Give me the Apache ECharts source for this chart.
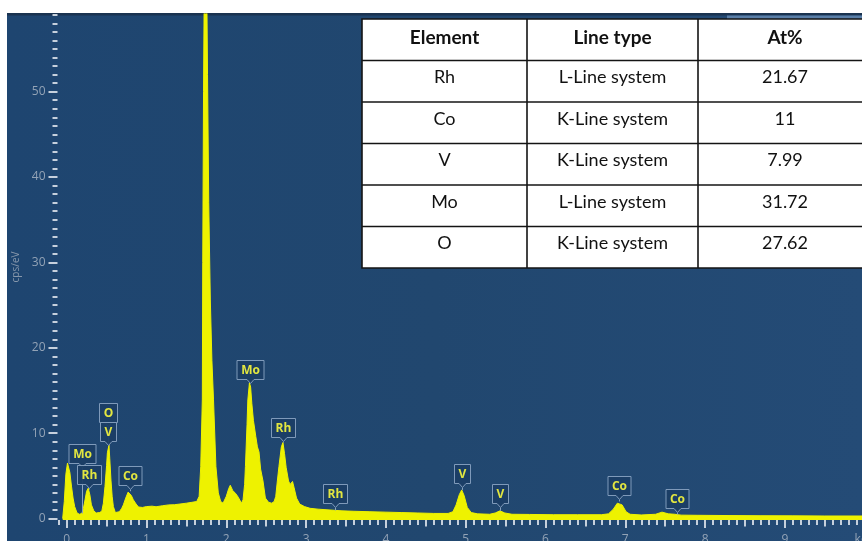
<!DOCTYPE html>
<html>
<head>
<meta charset="utf-8">
<script src="https://cdn.jsdelivr.net/npm/echarts@6/dist/echarts.min.js"></script>
<style>
  html, body { margin: 0; padding: 0; background: #ffffff; }
  #chart { width: 862px; height: 541px; }
</style>
</head>
<body>
<div id="chart"></div>
<script>
// EDS spectrum: energy (keV) and intensity (cps/eV)
const energyKeV = [
  -0.05, -0.03, -0.01, 0.01, 0.02, 0.04, 0.06, 0.08, 0.10, 0.13, 0.16, 0.19,
  0.21, 0.23, 0.25, 0.27, 0.29, 0.31, 0.34, 0.37, 0.41, 0.44, 0.46, 0.48,
  0.50, 0.51, 0.53, 0.54, 0.555, 0.57, 0.585, 0.61, 0.63, 0.66, 0.69, 0.71,
  0.74, 0.77, 0.785, 0.81, 0.835, 0.87, 0.90, 0.95, 1.00, 1.07, 1.12, 1.20,
  1.28, 1.35, 1.42, 1.50, 1.57, 1.63, 1.66, 1.68, 1.70, 1.705, 1.715, 1.725,
  1.74, 1.755, 1.765, 1.78, 1.80, 1.82, 1.84, 1.87, 1.90, 1.93, 1.96, 2.00,
  2.03, 2.05, 2.08, 2.12, 2.15, 2.19, 2.21, 2.23, 2.24, 2.26, 2.27, 2.29,
  2.305, 2.32, 2.34, 2.37, 2.39, 2.41, 2.43, 2.46, 2.49, 2.53, 2.57, 2.60,
  2.62, 2.64, 2.66, 2.69, 2.71, 2.73, 2.75, 2.78, 2.80, 2.83, 2.85, 2.88,
  2.92, 2.98, 3.05, 3.15, 3.30, 3.45, 3.60, 3.80, 4.00, 4.20, 4.40, 4.60,
  4.78, 4.84, 4.88, 4.92, 4.95, 4.98, 5.02, 5.07, 5.15, 5.30, 5.37, 5.43,
  5.49, 5.58, 5.80, 6.10, 6.40, 6.70, 6.79, 6.85, 6.90, 6.92, 6.96, 7.01,
  7.06, 7.20, 7.38, 7.46, 7.54, 7.62, 7.70, 7.90, 8.30, 8.70, 9.10, 9.50,
  10.0
];
const countsPerEV = [
  0.0, 2.0, 5.2, 6.5, 6.7, 5.4, 3.8, 2.4, 1.4, 0.65, 0.5, 0.6,
  1.2, 2.2, 3.2, 3.55, 2.8, 1.6, 0.9, 0.65, 0.7, 0.85, 1.8, 3.75,
  6.2, 7.7, 8.6, 7.0, 4.5, 2.6, 1.4, 0.7, 0.55, 0.8, 1.2, 1.6,
  2.4, 3.1, 3.2, 2.7, 2.2, 1.7, 1.35, 1.3, 1.4, 1.45, 1.38, 1.5,
  1.6, 1.62, 1.7, 1.8, 1.9, 2.0, 2.6, 6.1, 14.0, 30.0, 50.0, 64.0,
  71.0, 63.0, 52.0, 37.0, 25.6, 18.5, 13.9, 6.1, 3.0, 2.0, 1.8, 2.6,
  3.5, 3.9, 3.3, 2.9, 2.5, 1.8, 2.2, 4.0, 6.1, 11.0, 13.9, 15.9,
  15.4, 13.5, 11.5, 9.6, 8.4, 7.8, 5.8, 4.4, 2.4, 1.9, 1.8, 2.0,
  2.6, 4.4, 6.1, 8.4, 8.9, 7.6, 6.0, 4.4, 4.0, 4.35, 3.6, 2.4,
  1.7, 1.4, 1.2, 1.1, 1.0, 0.9, 0.85, 0.8, 0.75, 0.7, 0.65, 0.6,
  0.6, 0.8, 1.6, 2.8, 3.35, 2.7, 1.3, 0.7, 0.55, 0.5, 0.65, 0.9,
  0.65, 0.5, 0.48, 0.45, 0.45, 0.45, 0.55, 1.1, 1.8, 2.0, 1.6, 0.8,
  0.5, 0.42, 0.5, 0.75, 0.55, 0.5, 0.4, 0.38, 0.35, 0.33, 0.32, 0.3,
  0.3
];

// Identified peaks (element, line energy in keV, intensity at the marker)
const peakNames    = ['Mo', 'Rh', 'O', 'V', 'Co', 'Mo', 'Rh', 'Rh', 'V', 'V', 'Co', 'Co'];
const peakEnergies = [0.19, 0.28, 0.52, 0.52, 0.79, 2.30, 2.71, 3.36, 4.95, 5.43, 6.92, 7.65];
const peakCounts   = [0.6, 3.4, 8.6, 8.6, 3.2, 15.9, 8.9, 0.95, 3.35, 0.9, 2.0, 0.45];

// Axis tick values
const xTickValues = [0, 1, 2, 3, 4, 5, 6, 7, 8, 9, 10];
const xHalfTickValues = [0.5, 1.5, 2.5, 3.5, 4.5, 5.5, 6.5, 7.5, 8.5, 9.5];
const yTickValues = [0, 10, 20, 30, 40, 50];

// Quantification table
const tableHeader = ['Element', 'Line type', 'At%'];
const tableElements = ['Rh', 'Co', 'V', 'Mo', 'O'];
const tableLineTypes = ['L-Line system', 'K-Line system', 'K-Line system', 'L-Line system', 'K-Line system'];
const tableAtPercent = ['21.67', '11', '7.99', '31.72', '27.62'];

// ---- layout & styles ----
const YELLOW = '#eef200';
const TICK = '#c6d0dc';
const LABEL = '#93a3b6';
const calloutDrop = [50, 6, 23, 4, 6, 4, 6, 7, 7, 7.5, 6, 6.5]; // px gap between peak and callout box
const calloutFont = 'bold 12px "Open Sans", sans-serif';

const measureCtx = document.createElement('canvas').getContext('2d');
function textWidth(t, font) { measureCtx.font = font; return measureCtx.measureText(t).width; }

function renderCallout(params, api) {
  const i = params.dataIndex;
  const pt = api.coord([api.value(0), api.value(1)]);
  const name = peakNames[i];
  const w = Math.round(textWidth(name, calloutFont) + 8);
  const h = 19;
  const cx = Math.round(pt[0]) + 0.5;
  const bottom = Math.round(pt[1] - calloutDrop[i]) + 0.5;
  const top = bottom - h;
  const notch = 4;
  const children = [];
  if (calloutDrop[i] > notch) {
    children.push({
      type: 'line',
      shape: { x1: cx, y1: bottom + notch, x2: cx, y2: pt[1] },
      style: { stroke: '#8aa3bf', lineWidth: 1 }
    });
  }
  children.push({
    type: 'polygon',
    shape: {
      points: [
        [cx - w / 2, top], [cx + w / 2, top], [cx + w / 2, bottom],
        [cx + 3.5, bottom], [cx, bottom + notch], [cx - 3.5, bottom], [cx - w / 2, bottom]
      ]
    },
    style: { fill: 'rgba(27,62,101,0.95)', stroke: '#7f9aba', lineWidth: 1 }
  });
  children.push({
    type: 'text',
    x: cx, y: top + h / 2 + 0.5,
    style: { text: name, font: calloutFont, fill: '#e2e640', align: 'center', verticalAlign: 'middle' }
  });
  return { type: 'group', children: children };
}

// table built from the arrays above
function buildTable() {
  const cols = [362, 527, 698, 872];
  const top = 19, rowH = 41.5;
  const nRows = tableElements.length + 1;
  const bottom = top + rowH * nRows;
  const els = [];
  els.push({
    type: 'rect', z: 20,
    shape: { x: cols[0], y: top, width: cols[3] - cols[0], height: bottom - top },
    style: { fill: '#ffffff', stroke: '#141414', lineWidth: 1.6 }
  });
  for (let r = 1; r < nRows; r++) {
    const y = top + rowH * r;
    els.push({ type: 'line', z: 21, shape: { x1: cols[0], y1: y, x2: cols[3], y2: y },
      style: { stroke: '#141414', lineWidth: 1.6 } });
  }
  for (let c = 1; c < 3; c++) {
    els.push({ type: 'line', z: 21, shape: { x1: cols[c], y1: top, x2: cols[c], y2: bottom },
      style: { stroke: '#141414', lineWidth: 1.6 } });
  }
  const rows = [tableHeader].concat(tableElements.map((e, i) => [e, tableLineTypes[i], tableAtPercent[i]]));
  rows.forEach((row, r) => {
    row.forEach((txt, c) => {
      els.push({
        type: 'text', z: 22,
        x: (cols[c] + cols[c + 1]) / 2,
        y: top + rowH * r + rowH / 2 - (r === 0 ? 2 : 4),
        style: {
          text: txt,
          font: (r === 0 ? 'bold 19px' : '18px') + ' Lato, "Open Sans", sans-serif',
          fill: '#111111', align: 'center', verticalAlign: 'middle'
        }
      });
    });
  });
  return els;
}

const chart = echarts.init(document.getElementById('chart'), null, { renderer: 'canvas' });

chart.setOption({
  animation: false,
  backgroundColor: '#ffffff',
  grid: { left: 57.5, top: 14, width: 807.2, height: 506, outerBoundsMode: 'none', containLabel: false },
  xAxis: [{
    type: 'value', min: -0.115, max: 10, splitNumber: 10,
    axisLine: { show: false, onZero: false }, splitLine: { show: false },
    axisTick: { show: true, length: 8, customValues: xTickValues, lineStyle: { color: TICK, width: 2 } },
    minorTick: { show: true, splitNumber: 10, length: 5, lineStyle: { color: TICK, width: 2 } },
    axisLabel: {
      customValues: xTickValues, margin: 14, color: LABEL, fontSize: 12, fontFamily: 'Open Sans',
      formatter: v => (v === 10 ? 'keV' : String(v))
    }
  }, {
    type: 'value', min: -0.115, max: 10, position: 'bottom', splitNumber: 10,
    axisLine: { show: false, onZero: false }, splitLine: { show: false }, axisLabel: { show: false },
    axisTick: { show: true, length: 6.5, customValues: xHalfTickValues, lineStyle: { color: TICK, width: 2 } }
  }],
  yAxis: {
    type: 'value', min: -0.17, max: 59.1, splitNumber: 6,
    axisLine: { show: false, onZero: false }, splitLine: { show: false },
    axisTick: { show: true, length: 9, customValues: yTickValues, lineStyle: { color: TICK, width: 2 } },
    minorTick: { show: true, splitNumber: 10, length: 5, lineStyle: { color: TICK, width: 2 } },
    axisLabel: { customValues: yTickValues, margin: 12, color: LABEL, fontSize: 12, fontFamily: 'Open Sans' },
    name: 'cps/eV', nameLocation: 'middle', nameGap: 34, nameRotate: 90,
    nameTextStyle: { color: '#8797ab', fontSize: 10, fontFamily: 'Open Sans' }
  },
  graphic: [
    {
      type: 'rect', z: -5, silent: true,
      shape: { x: 7, y: 13, width: 855, height: 528 },
      style: {
        fill: new echarts.graphic.LinearGradient(0, 0, 1, 0, [
          { offset: 0, color: '#1e4570' },
          { offset: 0.5, color: '#21476f' },
          { offset: 1, color: '#244b76' }
        ])
      }
    },
    { type: 'rect', z: -4, silent: true, shape: { x: 7, y: 13, width: 855, height: 2.5 }, style: { fill: '#1a3350' } },
    { type: 'rect', z: -4, silent: true, shape: { x: 727, y: 15.5, width: 135, height: 4 }, style: { fill: '#5a7fa8' } }
  ].concat(buildTable()),
  series: [{
    type: 'line',
    xAxisIndex: 0,
    data: energyKeV.map((e, i) => [e, countsPerEV[i]]),
    symbol: 'none',
    lineStyle: { color: YELLOW, width: 1 },
    areaStyle: { color: YELLOW, opacity: 1, origin: 'start' },
    z: 3
  }, {
    type: 'custom',
    xAxisIndex: 0,
    data: peakEnergies.map((e, i) => [e, peakCounts[i]]),
    renderItem: renderCallout,
    z: 5
  }]
});
</script>
</body>
</html>
